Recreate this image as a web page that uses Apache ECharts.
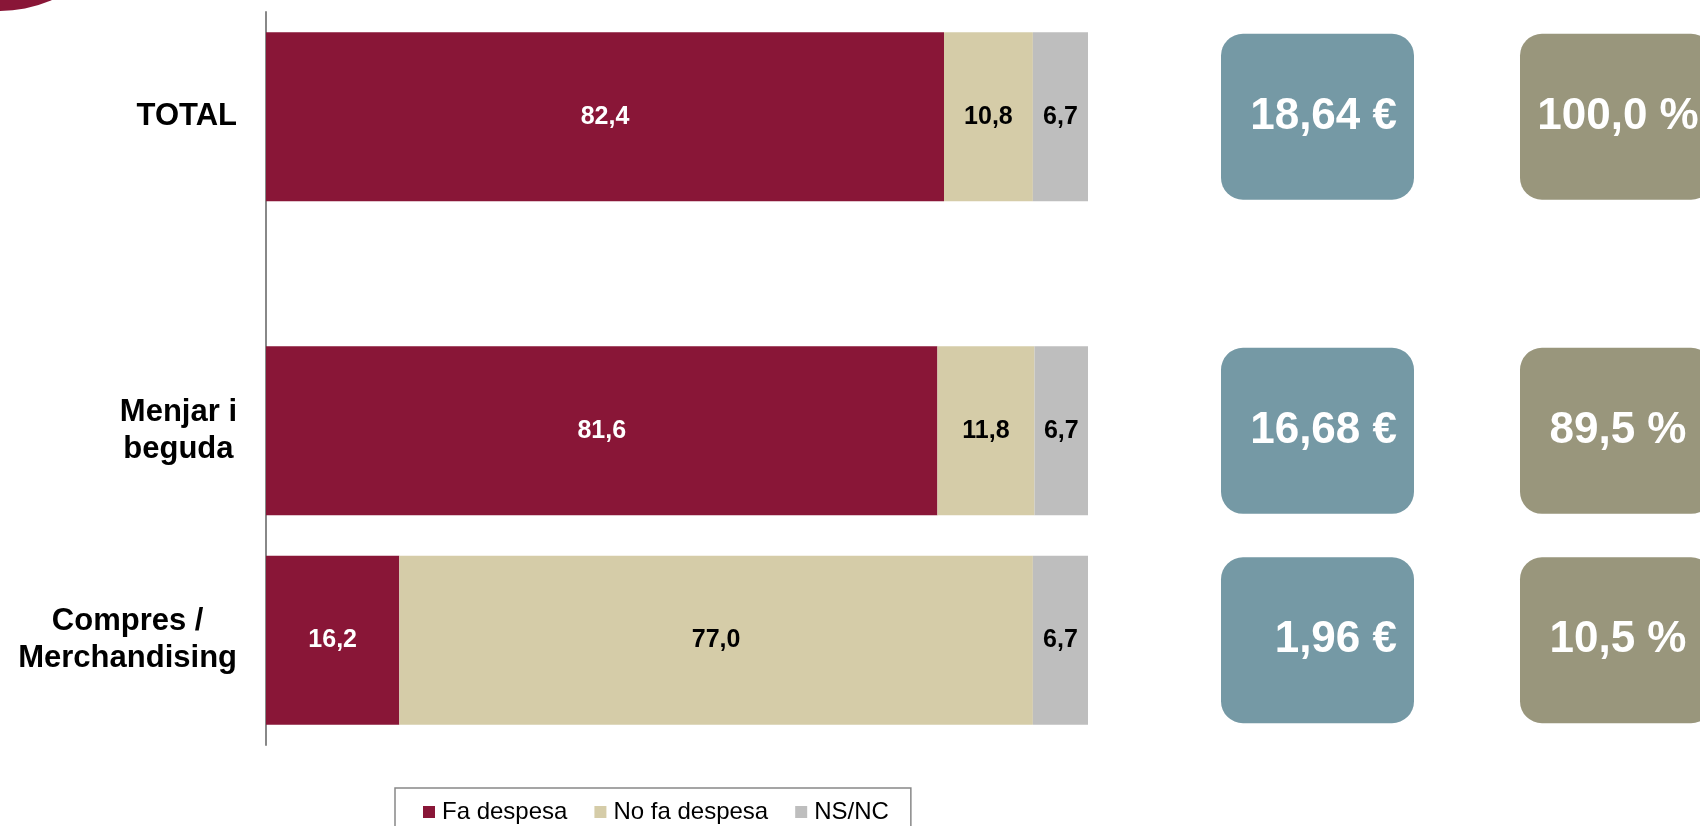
<!DOCTYPE html>
<html>
<head>
<meta charset="utf-8">
<script src="https://cdn.jsdelivr.net/npm/echarts@6/dist/echarts.min.js"></script>
<style>
  html, body { margin: 0; padding: 0; background: #fff; }
  #chart { width: 1700px; height: 826px; }
</style>
</head>
<body>
<div id="chart"></div>
<script>
// rows of the chart, top to bottom
const rows = ["TOTAL", "Menjar i\nbeguda", "Compres /\nMerchandising"];
const faDespesa = [82.4, 81.6, 16.2];
const noFaDespesa = [10.8, 11.8, 77.0];
const nsnc = [6.7, 6.7, 6.7];
// values shown in the boxes at the right
const spend = ["18,64 €", "16,68 €", "1,96 €"];
const share = ["100,0 %", "89,5 %", "10,5 %"];

const FONT = "'Liberation Sans', Arial, sans-serif";
const colors = ["#891637", "#D5CCA8", "#BEBEBE"];

// the rows sit on slots 1, 4 and 6 of an 8-slot category axis (uneven gaps)
const rowSlots = [1, 4, 6];
const slotCount = 8;
const categories = new Array(slotCount).fill("");
rowSlots.forEach((s, i) => (categories[s] = rows[i]));

function toSlots(values) {
  const out = new Array(slotCount).fill("-");
  rowSlots.forEach((s, i) => (out[s] = values[i]));
  return out;
}

const fmt = (p) => p.value.toFixed(1).replace(".", ",");

var myChart = echarts.init(document.getElementById("chart"));

function barSeries(name, values, color, textColor) {
  return {
    name: name,
    type: "bar",
    stack: "total",
    barWidth: 169,
    itemStyle: { color: color },
    label: {
      show: true,
      position: "inside",
      formatter: fmt,
      color: textColor,
      fontSize: 25,
      fontWeight: "bold",
      fontFamily: FONT,
    },
    data: toSlots(values),
  };
}

myChart.setOption({
  animation: false,
  grid: { left: 266, right: 612, top: 12, bottom: 81 },
  xAxis: { type: "value", min: 0, max: 99.9, show: false },
  yAxis: {
    type: "category",
    inverse: true,
    boundaryGap: false,
    data: categories,
    axisLine: { show: true, lineStyle: { color: "#888", width: 2 } },
    axisTick: { show: false },
    splitLine: { show: false },
    axisLabel: {
      margin: 29,
      align: "right",
      formatter: (v) =>
        v ? v.split("\n").map((s) => "{a|" + s + "}").join("\n") : "",
      rich: {
        a: {
          align: "center",
          fontSize: 31,
          fontWeight: "bold",
          fontFamily: FONT,
          color: "#000",
          lineHeight: 37,
        },
      },
    },
  },
  legend: {
    left: 395,
    top: 788,
    padding: [12, 22, 12, 28],
    borderColor: "#888",
    borderWidth: 1.5,
    itemWidth: 12,
    itemHeight: 12,
    itemGap: 27,
    icon: "rect",
    textStyle: {
      fontSize: 24,
      color: "#000",
      fontFamily: FONT,
      padding: [0, 0, 0, 2],
    },
    data: ["Fa despesa", "No fa despesa", "NS/NC"],
  },
  series: [
    barSeries("Fa despesa", faDespesa, colors[0], "#fff"),
    barSeries("No fa despesa", noFaDespesa, colors[1], "#000"),
    barSeries("NS/NC", nsnc, colors[2], "#000"),
  ],
});

// boxes with spend and share, centred on each row
const boxes = [
  {
    type: "circle",
    shape: { cx: 0, cy: -117, r: 128 },
    style: { fill: colors[0] },
  },
];
rowSlots.forEach((slot, i) => {
  const cy = myChart.convertToPixel({ yAxisIndex: 0 }, slot);
  boxes.push({
    type: "rect",
    shape: { x: 1221, y: cy - 83, width: 193, height: 166, r: 22 },
    style: { fill: "#7599A5" },
  });
  boxes.push({
    type: "text",
    x: 1397,
    y: cy,
    style: {
      text: spend[i],
      fill: "#fff",
      font: "bold 44px " + FONT,
      textAlign: "right",
      textVerticalAlign: "middle",
    },
  });
  boxes.push({
    type: "rect",
    shape: { x: 1520, y: cy - 83, width: 193, height: 166, r: 22 },
    style: { fill: "#99967C" },
  });
  boxes.push({
    type: "text",
    x: 1618,
    y: cy,
    style: {
      text: share[i],
      fill: "#fff",
      font: "bold 44px " + FONT,
      textAlign: "center",
      textVerticalAlign: "middle",
    },
  });
});
myChart.setOption({ graphic: boxes });
</script>
</body>
</html>
